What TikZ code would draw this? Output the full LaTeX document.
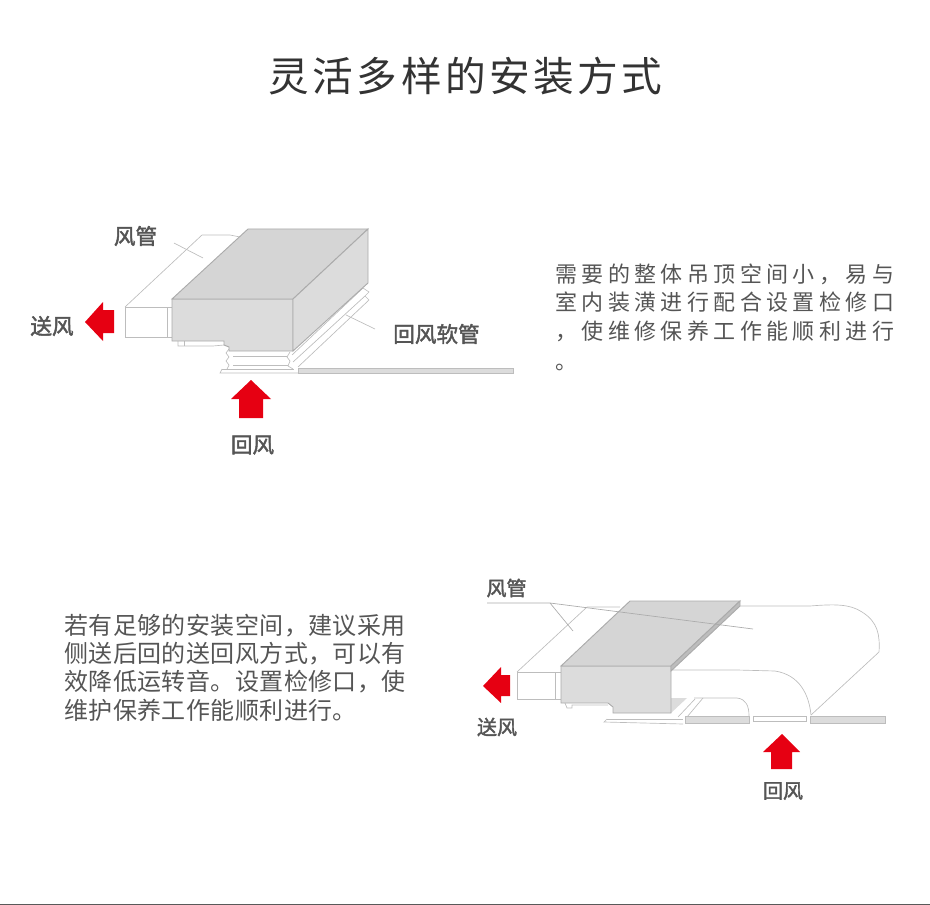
\documentclass[tikz,border=0pt]{standalone}
\usepackage{fontspec}
\setmainfont{Noto Sans CJK SC}
\newfontfamily\tagfont[FakeBold=2]{Noto Sans CJK SC}
\definecolor{txtgray}{HTML}{555555}
\definecolor{linegray}{HTML}{BDBDBD}
\definecolor{boxgray}{HTML}{DCDCDC}
\definecolor{topgray}{HTML}{D5D5D5}
\definecolor{edgegray}{HTML}{ABABAB}
\definecolor{arrowred}{HTML}{E60012}
\tikzset{
  outline/.style={draw=linegray,line width=0.5pt},
  unitface/.style={draw=edgegray,fill=boxgray,line width=0.7pt},
  ceilbar/.style={draw=linegray,fill=boxgray,line width=0.7pt},
  redarrow/.style={fill=arrowred,draw=none},
  tag/.style={text=txtgray,font=\fontsize{16.2}{16.2}\tagfont,inner sep=0pt},
  smalltag/.style={text=txtgray,font=\fontsize{15}{15}\tagfont,inner sep=0pt},
  bodytxt/.style={text=txtgray,anchor=west,inner sep=0pt},
  parawide/.style={bodytxt,font=\fontsize{16.5}{16.5}\selectfont\addfontfeature{LetterSpace=20}},
  paratight/.style={bodytxt,font=\fontsize{18}{18}\selectfont\addfontfeature{LetterSpace=1.8}},
}
\begin{document}
\begin{tikzpicture}[x=0.75pt,y=-0.75pt]
  \useasboundingbox (0,0) rectangle (930,905);

  \node[text=black!80,inner sep=0pt,font=\fontsize{30.5}{30.5}\selectfont\addfontfeature{LetterSpace=8.5}] (title) at (465.5,76) {灵活多样的安装方式};

  % upper unit
  \draw[outline] (125,307) -- (202,235) -- (230,235) -- (240,237);
  \draw[outline] (125,307) rectangle (172,337);
  \draw[outline] (167,307) -- (167,337);
  \draw[outline] (174,243) -- (203,258);
  \draw[outline] (178,341) -- (178,346) -- (213,346) -- (224,345);
  \draw[outline] (184,341) -- (184,346);
  \draw[outline] (229,349) -- (226,353) -- (229,357) -- (226,361) -- (229,365) -- (227,369);
  \draw[outline] (222,369) -- (220,373) -- (298,373);
  \draw[outline] (222,369) -- (294,369);
  \draw[outline] (233,356) -- (287,356);
  \draw[outline] (233,365) -- (288,365);
  \draw[outline] (290,352) -- (287,357) -- (290,361) -- (288,366) -- (293,369);
  \draw[outline] (292,355) -- (363,288) -- (369,292) -- (365,296) -- (369,300) -- (298,367);
  \draw[outline] (293,362) -- (365,296);
  \draw[outline] (346,315) -- (375,329);
  \draw[unitface] (172,299) -- (293,299) -- (293,351) -- (229,351) -- (229,347) -- (224,345) -- (224,341) -- (172,341) -- cycle;
  \draw[unitface,fill=topgray] (172,299) -- (248,229) -- (368,229) -- (293,299) -- cycle;
  \draw[unitface] (293,299) -- (368,229) -- (368,283) -- (293,351) -- cycle;
  \draw[ceilbar] (298,368) rectangle (513,373);

  \fill[redarrow] (85,322) -- (103,302) -- (103,310) -- (114,310) -- (114,333) -- (103,333) -- (103,341) -- cycle;
  \fill[redarrow] (251,380) -- (271,399) -- (263,399) -- (263,418) -- (239,418) -- (239,399) -- (231,399) -- cycle;

  \node[tag] (duct1) at (135.5,236) {风管};
  \node[tag] (supply1) at (52,326) {送风};
  \node[tag] (return1) at (252.5,445) {回风};
  \node[tag] (hose1) at (436.5,334) {回风软管};

  \node[parawide] (a1) at (555,274) {需要的整体吊顶空间小，易与};
  \node[parawide] (a2) at (555,302) {室内装潢进行配合设置检修口};
  \node[parawide] (a3) at (555,331) {，使维修保养工作能顺利进行};
  \node[parawide] (a4) at (555,367) {。};

  \node[paratight] (b1) at (64,626) {若有足够的安装空间，建议采用};
  \node[paratight] (b2) at (64,654) {侧送后回的送回风方式，可以有};
  \node[paratight] (b3) at (64,682) {效降低运转音。设置检修口，使};
  \node[paratight] (b4) at (64,710) {维护保养工作能顺利进行。};

  % lower unit
  \draw[outline] (517,672) -- (587,607) -- (620,607);
  \draw[outline] (517,672) rectangle (561,699);
  \draw[outline] (555,672) -- (555,699);
  \draw[outline] (740,606) -- (810,606) .. controls (835,604) and (850,604) .. (862,612) .. controls (878,622) and (880,635) .. (879,652) -- (811,715);
  \draw[outline] (671,670) -- (737,670) -- (775,671) .. controls (800,675) and (809,695) .. (811,715);
  \draw[outline] (694,698) -- (737,698) .. controls (746,699) and (749,706) .. (749,716);
  \draw[outline] (565,703) -- (567,708) -- (572,708) -- (572,705) -- (608,705);
  \draw[outline] (607,719) -- (683,719);
  \draw[outline] (607,719) -- (604,722) -- (683,724);
  \draw[outline] (678,717) -- (695,699);
  \draw[outline] (687,717) -- (703,698);
  \fill[boxgray] (671,698) -- (687,698) -- (671,713) -- cycle;
  \draw[unitface] (561,666) -- (671,666) -- (671,713) -- (613,713) -- (613,707) -- (608,703) -- (561,703) -- cycle;
  \draw[unitface,fill=topgray] (561,666) -- (630,601) -- (740,601) -- (671,666) -- cycle;
  \draw[unitface,fill=linegray] (671,666) -- (740,601) -- (740,606) -- (671,671) -- cycle;
  \draw[outline,draw=edgegray] (487,603) -- (550,603) -- (753,629);
  \draw[outline,draw=edgegray] (550,603) -- (573,631);
  \draw[ceilbar] (685,716) rectangle (749,723);
  \draw[outline] (753,716) rectangle (806,721);
  \draw[ceilbar] (810,716) rectangle (885,723);

  \fill[redarrow] (483,686) -- (501,667) -- (501,675) -- (510,675) -- (510,696) -- (501,696) -- (501,703) -- cycle;
  \fill[redarrow] (782,734) -- (800,752) -- (792,752) -- (792,769) -- (771,769) -- (771,752) -- (763,752) -- cycle;

  \node[smalltag] (duct2) at (506.5,588) {风管};
  \node[smalltag] (supply2) at (497,727) {送风};
  \node[smalltag] (return2) at (783,791) {回风};

  % bottom rule
  \fill[black!65] (0,903.5) rectangle (930,905);
\end{tikzpicture}
\end{document}
